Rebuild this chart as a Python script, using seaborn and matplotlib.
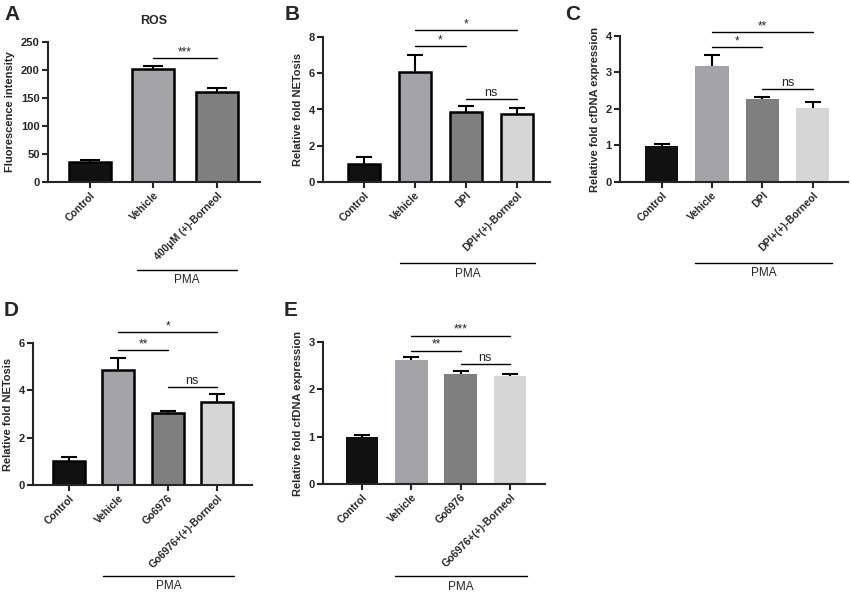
import numpy as np
import matplotlib
matplotlib.use("Agg")
import matplotlib.pyplot as plt
import matplotlib.transforms as mtransforms
import seaborn as sns

sns.set_style("ticks")
plt.rcParams["font.family"] = ["Liberation Sans", "DejaVu Sans"]

# ---- data ----
a_labels = ["Control", "Vehicle", "400\u03bcM (+)-Borneol"]
a_means = [36, 201, 161]
a_errs = [4, 6, 6]

b_labels = ["Control", "Vehicle", "DPI", "DPI+(+)-Borneol"]
b_means = [1.0, 6.08, 3.87, 3.74]
b_errs = [0.36, 0.95, 0.33, 0.33]

c_labels = ["Control", "Vehicle", "DPI", "DPI+(+)-Borneol"]
c_means = [0.99, 3.18, 2.27, 2.04]
c_errs = [0.05, 0.30, 0.05, 0.15]

d_labels = ["Control", "Vehicle", "Go6976", "Go6976+(+)-Borneol"]
d_means = [1.0, 4.88, 3.03, 3.52]
d_errs = [0.17, 0.47, 0.08, 0.31]

e_labels = ["Control", "Vehicle", "Go6976", "Go6976+(+)-Borneol"]
e_means = [0.99, 2.61, 2.32, 2.28]
e_errs = [0.04, 0.07, 0.06, 0.04]

colors3 = ["#111111", "#a3a3a9", "#7f7f7f"]
colors4 = ["#111111", "#a3a3a9", "#7f7f7f", "#d6d6d6"]

W, H = 851, 593
fig = plt.figure(figsize=(W / 100, H / 100), dpi=100)


def make_ax(x0, x1, ytop, ybot):
    return fig.add_axes([x0 / W, 1 - ybot / H, (x1 - x0) / W, (ybot - ytop) / H])


def panel(ax, labels, means, errs, colors, ylim, yticks, ylabel, xlim, width,
          edge, capsize, sigs, pma):
    sns.barplot(x=labels, y=means, hue=labels, palette=colors, legend=False,
                width=width, edgecolor="black" if edge else "none",
                linewidth=1.8 if edge else 0, ax=ax, zorder=2)
    pos = np.arange(len(labels))
    # symmetric bars drawn behind the bars, so only the upper half shows
    ax.errorbar(pos, means, yerr=errs, fmt="none",
                ecolor="black", elinewidth=1.5, capsize=capsize, capthick=1.5,
                zorder=1)
    ax.set_ylim(*ylim)
    ax.set_yticks(yticks)
    ax.set_xlim(*xlim)
    ax.set_ylabel(ylabel, fontsize=8, fontweight="bold")
    ax.set_xlabel("")
    ax.set_xticks(pos)
    ax.set_xticklabels(labels, rotation=45, ha="right", rotation_mode="anchor",
                       fontsize=7.5, fontweight="bold")
    for t in ax.get_yticklabels():
        t.set_fontweight("bold")
        t.set_fontsize(8)
    sns.despine(ax=ax)
    for s in ["left", "bottom"]:
        ax.spines[s].set_linewidth(1.5)
    ax.tick_params(width=1.5, length=4, pad=2)
    for (i, j, y, txt) in sigs:
        ax.plot([i, j], [y, y], color="black", lw=1, clip_on=False)
        if txt == "ns":
            ax.text((i + j) / 2, y, txt, ha="center", va="bottom", fontsize=9)
        else:
            ax.text((i + j) / 2, y, txt, ha="center", va="bottom", fontsize=8.5)
    trans = mtransforms.blended_transform_factory(ax.transData, ax.transAxes)
    px0, px1, py = pma
    ax.plot([px0, px1], [py, py], color="black", lw=1, clip_on=False,
            transform=trans)
    ax.text((px0 + px1) / 2, py - 0.03, "PMA", ha="center", va="top",
            fontsize=8.5, transform=trans)


axA = make_ax(48, 260, 42, 182)
panel(axA, a_labels, a_means, a_errs, colors3, (0, 250), [0, 50, 100, 150, 200, 250],
      "Fluorescence intensity", (-0.66, 2.68), 0.66, True, 7,
      [(1, 2, 221, "***")], (0.74, 2.31, -0.63))
axA.set_title("ROS", fontsize=9, fontweight="bold", pad=13)

axB = make_ax(323, 550, 37, 182)
panel(axB, b_labels, b_means, b_errs, colors4, (0, 8), [0, 2, 4, 6, 8],
      "Relative fold NETosis", (-0.80, 3.65), 0.63, True, 6,
      [(1, 3, 8.37, "*"), (1, 2, 7.5, "*"), (2, 3, 4.6, "ns")], (0.71, 3.35, -0.56))

axC = make_ax(620, 848, 36, 182)
panel(axC, c_labels, c_means, c_errs, colors4, (0, 4), [0, 1, 2, 3, 4],
      "Relative fold cfDNA expression", (-0.83, 3.70), 0.66, False, 6,
      [(1, 3, 4.1, "**"), (1, 2, 3.69, "*"), (2, 3, 2.54, "ns")], (0.66, 3.38, -0.555))

axD = make_ax(33, 252, 343, 485)
panel(axD, d_labels, d_means, d_errs, colors4, (0, 6), [0, 2, 4, 6],
      "Relative fold NETosis", (-0.73, 3.71), 0.65, True, 6,
      [(1, 3, 6.45, "*"), (1, 2, 5.69, "**"), (2, 3, 4.14, "ns")], (0.69, 3.35, -0.64))

axE = make_ax(323, 545, 342, 484)
panel(axE, e_labels, e_means, e_errs, colors4, (0, 3), [0, 1, 2, 3],
      "Relative fold cfDNA expression", (-0.79, 3.71), 0.66, False, 6,
      [(1, 3, 3.13, "***"), (1, 2, 2.82, "**"), (2, 3, 2.54, "ns")], (0.67, 3.35, -0.65))

for letter, x, y in [("A", 4, 14), ("B", 285, 14), ("C", 565, 15), ("D", 4, 310), ("E", 284, 310)]:
    fig.text(x / W, 1 - y / H, letter, fontsize=15, fontweight="bold", va="center", ha="left")

fig.savefig("out.png", dpi=100)
